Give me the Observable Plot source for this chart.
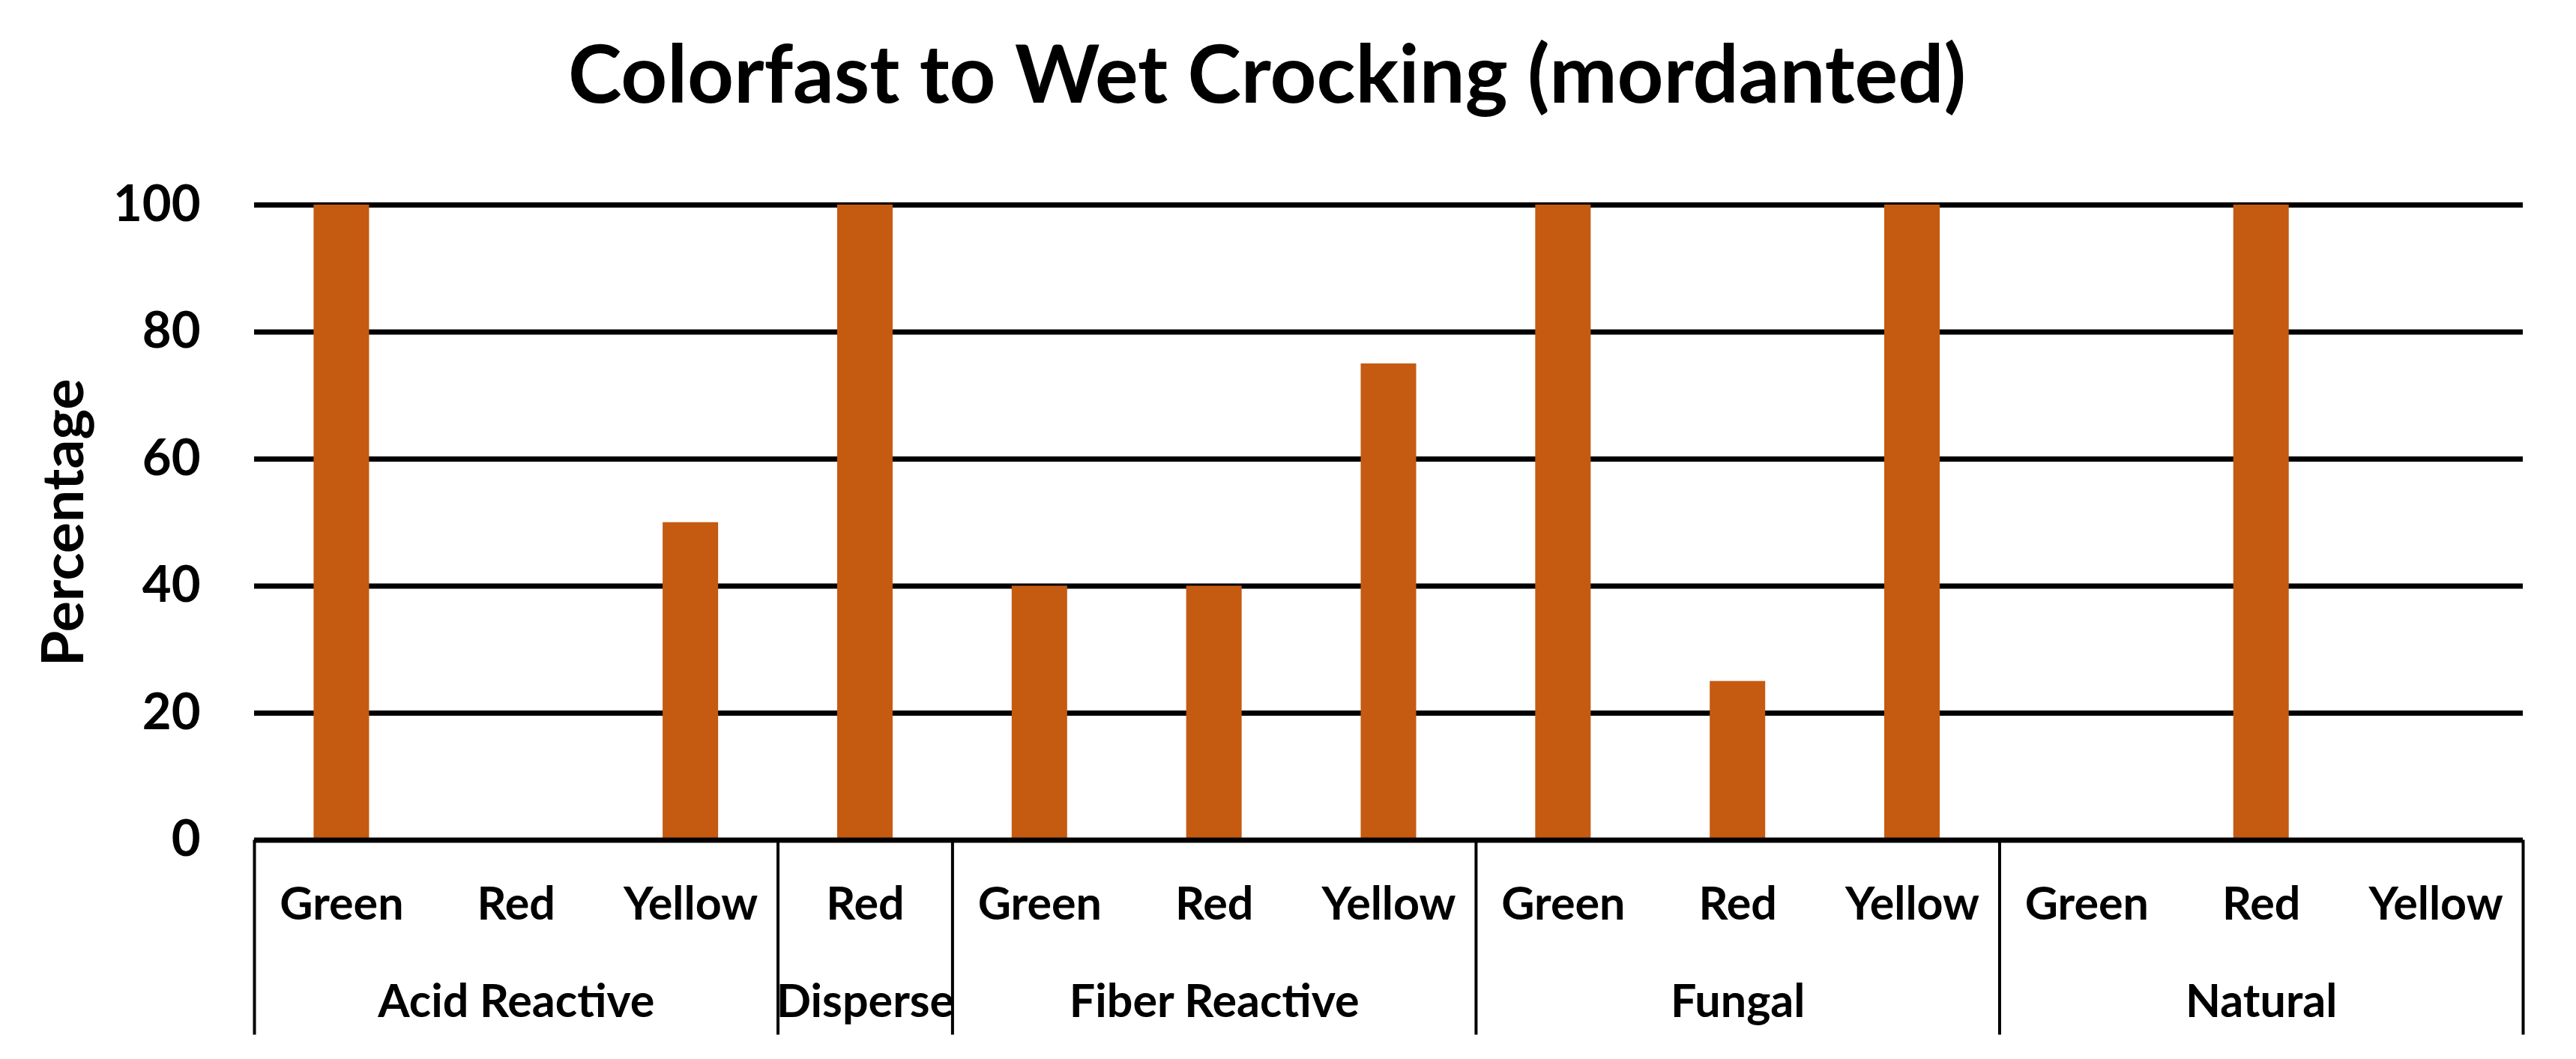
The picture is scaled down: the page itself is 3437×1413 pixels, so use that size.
<!DOCTYPE html>
<html>
<head>
<meta charset="utf-8">
<script src="https://cdn.jsdelivr.net/npm/d3@7"></script>
<script src="https://cdn.jsdelivr.net/npm/@observablehq/plot@0.6"></script>
<style>
  html, body { margin: 0; padding: 0; background: #ffffff; }
  #title {
    width: 3437px; height: 180px; box-sizing: border-box;
    padding-top: 41px; padding-right: 56px;
    font-family: Lato, "Open Sans", sans-serif; font-weight: 700; font-size: 108px;
    line-height: 1; text-align: center; color: #000; white-space: nowrap;
  }
</style>
</head>
<body>
<div id="title">Colorfast to Wet Crocking (mordanted)</div>
<div id="chart"></div>
<script>
// ---- data ----
const groupNames = ["Acid Reactive", "Disperse", "Fiber Reactive", "Fungal", "Natural"];
const groupSizes = [3, 1, 3, 3, 3];
const dyeColors = ["Green", "Red", "Yellow", "Red", "Green", "Red", "Yellow", "Green", "Red", "Yellow", "Green", "Red", "Yellow"];
const percentage = [100, 0, 50, 100, 40, 40, 75, 100, 25, 100, 0, 100, 0];
const yTicks = [0, 20, 40, 60, 80, 100];
const yLabel = "Percentage";

// ---- derived tables ----
const n = dyeColors.length;
const bars = dyeColors.map((c, i) => ({i, color: c, value: percentage[i]}));
const bounds = [0];
groupSizes.forEach(s => bounds.push(bounds[bounds.length - 1] + s));
const groups = groupNames.map((g, k) => ({name: g, mid: (bounds[k] + bounds[k + 1]) / 2}));

// ---- layout ----
const W = 3437, H = 1413 - 180;
const mL = 339, mR = 71, mT = 93, mB = 292.5;
const slot = (W - mL - mR) / n;
const barW = 74;
const inset = (slot - barW) / 2;
const font = "Lato, 'Open Sans', sans-serif";

const chart = Plot.plot({
  width: W, height: H,
  marginLeft: mL, marginRight: mR, marginTop: mT, marginBottom: mB,
  style: {fontFamily: font, fontWeight: "bold", fontSize: "61px", color: "#000", background: "#fff"},
  x: {type: "linear", domain: [0, n], axis: null},
  y: {domain: [0, 100], axis: null},
  marks: [
    Plot.ruleY(yTicks.filter(t => t !== 0), {y: d => d, stroke: "#000", strokeWidth: 7}),
    Plot.rectY(bars, {x1: d => d.i, x2: d => d.i + 1, y: "value", fill: "#C55A11", insetLeft: inset, insetRight: inset}),
    Plot.ruleY([0], {stroke: "#000", strokeWidth: 7}),
    Plot.ruleX(bounds, {x: d => d, y1: () => 0, y2: () => 0, insetBottom: -260, stroke: "#000", strokeWidth: 4}),
    Plot.axisY({ticks: yTicks, tickSize: 0, tickPadding: 72, fontSize: 67, fontWeight: "bold", label: null}),
    Plot.text(bars, {x: d => d.i + 0.5, text: "color", frameAnchor: "bottom", dy: 86, lineAnchor: "middle", fontSize: 61, fontWeight: "bold", fill: "#000"}),
    Plot.text(groups, {x: "mid", text: "name", frameAnchor: "bottom", dy: 216, lineAnchor: "middle", fontSize: 61, fontWeight: "bold", fill: "#000"}),
    Plot.text([yLabel], {text: d => d, frameAnchor: "left", textAnchor: "middle", rotate: -90, dx: -253, lineAnchor: "middle", fontSize: 77, fontWeight: "bold", fill: "#000"})
  ]
});
document.getElementById("chart").appendChild(chart);
</script>
</body>
</html>
